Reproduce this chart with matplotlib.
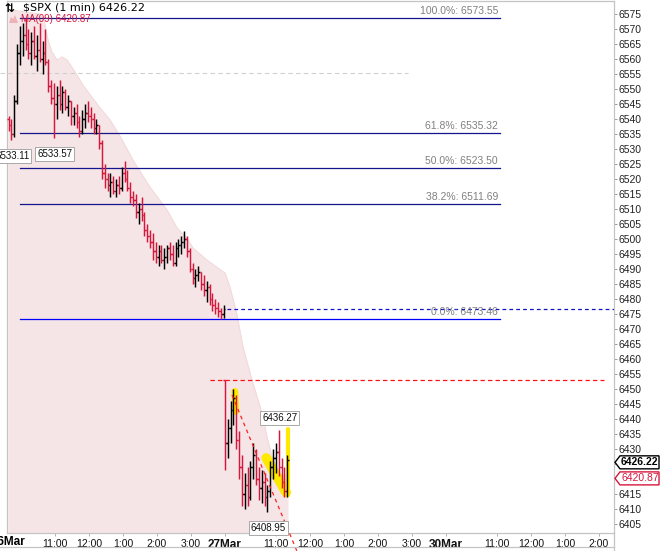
import matplotlib
matplotlib.use("Agg")
import matplotlib.pyplot as plt
from matplotlib.patches import Polygon
from matplotlib.lines import Line2D

plt.rcParams['font.family'] = ['Liberation Sans', 'DejaVu Sans']

W, H = 671, 551  # output size in px

# ---------------- data ----------------
# x = trading minutes since 26Mar 9:30 (390 minutes per session), 5-min bars
bar_step = 5
t26_start = 8
open26 = 6540.0
high26 = [6541, 6540, 6548, 6565, 6571, 6572, 6573.55, 6570, 6569, 6571,
          6568, 6572, 6566, 6570, 6560, 6553, 6552, 6551, 6553, 6551,
          6550, 6548, 6546, 6544, 6545, 6541, 6543, 6545, 6546, 6544,
          6542, 6540, 6538, 6533, 6525, 6522, 6522, 6521, 6520, 6521,
          6524, 6526, 6523, 6519, 6516, 6515, 6512, 6514, 6509, 6505,
          6503, 6502, 6499, 6498, 6498, 6497, 6498, 6499, 6498, 6499,
          6500, 6501, 6502.5, 6501, 6497, 6492, 6490, 6491, 6489, 6488,
          6486, 6485, 6482, 6480, 6479, 6477, 6478]
low26 = [6536, 6533.11, 6534, 6545, 6558, 6561, 6563, 6560, 6558, 6560,
         6556, 6559, 6555, 6558, 6549, 6545, 6533.57, 6540, 6543, 6542,
         6543, 6541, 6538, 6538, 6537, 6534, 6535, 6537, 6539, 6537,
         6535, 6535, 6530, 6520, 6517, 6516, 6514, 6515, 6514, 6515,
         6516, 6519, 6516, 6512, 6511, 6507, 6505, 6506, 6501, 6499,
         6497, 6493, 6492, 6491, 6492, 6490, 6492, 6493, 6491, 6491,
         6494, 6495, 6497, 6494, 6489, 6485, 6484, 6486, 6483, 6481,
         6479, 6478, 6476, 6475, 6474, 6473.46, 6473.5]
close26 = [6538, 6535, 6546, 6562, 6566, 6568, 6565, 6562, 6566, 6561,
           6563, 6560, 6562, 6559, 6551, 6547, 6545, 6548, 6545, 6549,
           6544, 6546, 6541, 6542, 6539, 6536, 6540, 6542, 6541, 6540,
           6537, 6538, 6532, 6522, 6520, 6518, 6519, 6516, 6518, 6517,
           6522, 6520, 6517, 6514, 6513, 6509, 6510, 6508, 6503, 6501,
           6499, 6496, 6494, 6496, 6493, 6494, 6497, 6495, 6492, 6497,
           6498, 6499, 6500, 6496, 6490, 6487, 6488, 6489, 6485, 6483,
           6484, 6480, 6478, 6477, 6476, 6475, 6476.67]

t27_start = 390
open27 = 6453.0
high27 = [6453, 6440, 6446, 6450, 6448, 6436, 6428, 6422, 6424, 6426,
          6432, 6430, 6424, 6423, 6422, 6418, 6426, 6430, 6432, 6436.27,
          6427, 6424, 6428]
low27 = [6423, 6427, 6432, 6438, 6430, 6420, 6411, 6410, 6411, 6413,
         6420, 6418, 6413, 6412, 6411, 6408.95, 6414, 6420, 6422, 6421,
         6417, 6414, 6414]
close27 = [6432, 6437, 6443, 6447, 6433, 6424, 6415, 6418, 6414, 6424,
           6428, 6420, 6417, 6419, 6414, 6416, 6424, 6427, 6429, 6424,
           6419, 6416, 6426.22]

# MA(09) area outline
ma_t = [7, 63.5, 70.6, 77.7, 84.7, 93.6, 102.4, 111.2, 125.3, 139.4, 169.5,
        187.1, 204.8, 227.7, 257.7, 287.7, 305.4, 323, 333.6, 358.3, 377.8,
        390.1, 398.9, 411.3, 421.9, 437.8, 455.4, 464.3, 473.1, 487.2, 501.3]
ma_p = [6576.5, 6575, 6573, 6566.3, 6562.3, 6559.7, 6560.7, 6559.7, 6555.7,
        6551.3, 6543.7, 6539.7, 6534.3, 6526.3, 6517.3, 6509.7, 6503.7,
        6500.3, 6497, 6493, 6490.3, 6488.7, 6484, 6474.7, 6464, 6453, 6442,
        6434, 6427.3, 6421.3, 6420.87]

fib_pct = ['100.0%', '61.8%', '50.0%', '38.2%', '0.0%']
fib_price = [6573.55, 6535.32, 6523.50, 6511.69, 6473.46]
fib_t = [28, 876]

prior_close = 6476.67
prior_t = [393.6, 1077]
gap_level = 6453.0
gap_t = [363.6, 1059]
gray_level = 6555.3
gray_t = [-7, 713]
trend_t = [402.5, 517]
trend_p = [6448, 6396]

# yellow highlights (pairs of points)
hl_t = [[407.5, 409], [463, 498], [502, 502]]
hl_p = [[6449.2, 6442.5], [6427, 6415.5], [6436.6, 6414.7]]
hl_w = [5, 7, 3]

# price labels on highs/lows
ann_t = [13, 88, 485, 465]
ann_p = [6533.11, 6533.57, 6436.27, 6408.95]
ann_below = [True, True, False, True]

last_price = 6426.22
ma_last = 6420.87

xtick_pos = [90, 150, 210, 270, 330, 390, 480, 540, 600, 660, 720,
             780, 870, 930, 990, 1050]
xtick_lab = ['11:00', '12:00', '1:00', '2:00', '3:00', '27Mar',
             '11:00', '12:00', '1:00', '2:00', '3:00', '30Mar',
             '11:00', '12:00', '1:00', '2:00']
yticks = list(range(6405, 6580, 5))
hidden_yticks = [6420, 6425]  # covered by the price tags

RED = '#d6173d'
FRAME = '#c4c4c4'

# ---------------- figure ----------------
fig = plt.figure(figsize=(W / 100, H / 100), dpi=100)
ax_l, ax_r, ax_t, ax_btm = 7, 614, 1, 533
ax_b = (H - ax_btm) / H
ax_h = (ax_btm - ax_t) / H
ax = fig.add_axes([ax_l / W, ax_b, (ax_r - ax_l) / W, ax_h])
xlo, xhi = 5.3, 1076.8
ylo, yhi = 6402.0, 6579.33
ax.set_xlim(xlo, xhi)
ax.set_ylim(ylo, yhi)

# MA area
ax.fill_between(ma_t, ma_p, ylo, color='#f6e5e6', lw=0, zorder=1)
ax.plot(ma_t, ma_p, color='#f2dadc', lw=0.8, zorder=1)

# fib lines
for pct, pr in zip(fib_pct, fib_price):
    col = '#0000ff' if pct == '0.0%' else '#14148c'
    ax.plot(fib_t, [pr, pr], color=col, lw=0.9, zorder=3)
    ax.annotate(f'{pct}: {pr:.2f}', xy=(fib_t[1] - 4, pr), xytext=(0, 2),
                textcoords='offset pixels', ha='right', va='bottom',
                fontsize=7.5, color='#808080', zorder=4)

ax.plot(gray_t, [gray_level] * 2, color='#cfcfcf', lw=0.8,
        dashes=(4, 3), clip_on=False, zorder=2)
ax.plot(prior_t, [prior_close] * 2, color='#1010c8', lw=0.9,
        dashes=(3, 2.5), zorder=3)
ax.plot(gap_t, [gap_level] * 2, color='#ff1010', lw=0.9,
        dashes=(3.5, 2.5), zorder=3)

# highlights
for tt, pp, w in zip(hl_t, hl_p, hl_w):
    ax.plot(tt, pp, color='#ffe900', lw=w, solid_capstyle='round', zorder=4)

# OHLC bars
def draw_bars(t0, first_open, highs, lows, closes):
    opens = [first_open] + closes[:-1]
    for i, (o, h, l, c) in enumerate(zip(opens, highs, lows, closes)):
        t = t0 + i * bar_step
        col = 'black' if c >= o else RED
        ax.vlines(t, min(l, o, c), max(h, o, c), color=col, lw=1.05, zorder=5)
        ax.hlines(o, t - 2.8, t, color=col, lw=1.05, zorder=5)
        ax.hlines(c, t, t + 2.8, color=col, lw=1.05, zorder=5)

draw_bars(t26_start, open26, high26, low26, close26)
draw_bars(t27_start, open27, high27, low27, close27)

# trend line (runs past the bottom of the chart)
ax.plot(trend_t, trend_p, color='#ff2020', lw=0.9, dashes=(3, 3),
        clip_on=False, zorder=6)

# high/low labels
for t, p, below in zip(ann_t, ann_p, ann_below):
    ax.annotate(f'{p:.2f}', xy=(t, p), xytext=(1, -11 if below else 7),
                textcoords='offset pixels', ha='center',
                va='top' if below else 'bottom', fontsize=7, color='#111111',
                bbox=dict(boxstyle='square,pad=0.2', fc='white',
                          ec='#a8a8a8', lw=0.7), zorder=7, annotation_clip=False)

# axes styling
for s in ax.spines.values():
    s.set_color(FRAME)
    s.set_linewidth(0.9)
ax.yaxis.tick_right()
ax.set_yticks(yticks)
ax.set_yticklabels(['' if v in hidden_yticks else str(v) for v in yticks])
ax.tick_params(axis='y', length=2.5, width=0.7, color='#9a9a9a', pad=1,
               labelsize=7.5, labelcolor='#222222')
ax.set_xticks(xtick_pos)
ax.set_xticklabels(xtick_lab)
ax.tick_params(axis='x', length=2.5, width=0.7, color='#b0b0b0', pad=1.5,
               labelsize=7.5, labelcolor='#111111')
for lab in ax.get_xticklabels():
    if 'Mar' in lab.get_text():
        lab.set_fontweight('bold')
        lab.set_fontsize(8.5)
ax.text(8, -0.006, '26Mar', transform=ax.get_xaxis_transform(), ha='center',
        va='top', fontsize=8.5, fontweight='bold', clip_on=False)

# lower frame of the time-axis band
fig.add_artist(Line2D([0, ax_r / W], [1 - 547 / H] * 2, color=FRAME, lw=0.9))
fig.add_artist(Line2D([ax_r / W] * 2, [0, ax_b], color=FRAME, lw=0.9))

# price tags on the right
def price_tag(price, text, col, bold):
    yc = ax_b + (price - ylo) / (yhi - ylo) * ax_h - 2 / H
    x0, x1, xn = 615 / W, 659 / W, 620 / W
    hh = 6.5 / H
    pts = [(x0, yc), (xn, yc + hh), (x1, yc + hh), (x1, yc - hh), (xn, yc - hh)]
    fig.add_artist(Polygon(pts, closed=True, fc='white', ec=col, lw=1.0))
    fig.text(621 / W, yc, text, ha='left', va='center', fontsize=7.5,
             color=col, fontweight='bold' if bold else 'normal')

price_tag(last_price, f'{last_price:.2f}', 'black', True)
price_tag(ma_last, f'{ma_last:.2f}', RED, False)

# legend lines top-left
fig.text(4 / W, 1 - 8 / H, '⇅', family=['DejaVu Sans'], fontsize=8.5,
         fontweight='bold', va='center', ha='left')
fig.text(23 / W, 1 - 8 / H, f'$SPX (1 min) {last_price:.2f}',
         family=['DejaVu Sans'], fontsize=8, va='center', ha='left',
         parse_math=False)
fig.add_artist(Polygon([(9 / W, 1 - 23 / H), (11 / W, 1 - 17 / H),
                        (13 / W, 1 - 19 / H), (15 / W, 1 - 15 / H),
                        (18 / W, 1 - 23 / H)], closed=True,
                       fc='#eeb3b9', ec='none'))
fig.text(21 / W, 1 - 19.5 / H, f'MA(09) {ma_last:.2f}', fontsize=7,
         color=RED, va='center', ha='left')

fig.savefig('out.png', dpi=100)
